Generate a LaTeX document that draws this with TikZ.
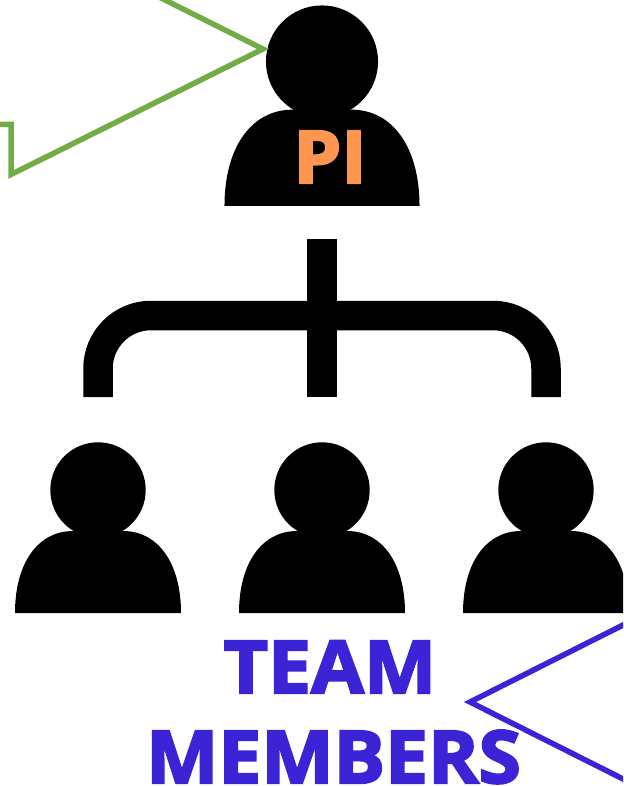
\documentclass[tikz,border=0pt]{standalone}
\usepackage{fontspec}
\usepackage{tikz}
\newfontfamily\heavyfont[BoldFeatures={FakeBold=3,FakeStretch=1.05}]{Open Sans}
\definecolor{pigreen}{HTML}{70AD47}
\definecolor{piorange}{HTML}{FF964F}
\definecolor{teamblue}{HTML}{3A24D6}
\tikzset{
    person/.pic={
        \fill (0,-123) circle (47.7);
        \fill (-83,0) .. controls (-83,-50) and (-60,-82) .. (-25,-82) -- (25,-82) .. controls (60,-82) and (83,-50) .. (83,0) -- cycle;
    },
    branch/.style={line width=29.5pt, line join=miter},
    callout/.style={line width=5.5pt, line join=miter, miter limit=10},
    title/.style={font=\heavyfont\bfseries\fontsize{73}{90}\selectfont, inner sep=0pt, anchor=base},
}
\begin{document}
\begin{tikzpicture}[x=1pt, y=-1pt]
    \clip (0,0) rectangle (623,786);
    \fill[white] (0,0) rectangle (623,786);
    % people
    \pic at (322,206) [scale=1.175] {person};
    \foreach \xpos in {98,322,546}
        \pic at (\xpos,613) {person};
    % branches
    \draw[branch] (322,239) -- (322,397);
    \draw[branch, rounded corners=53pt] (98,397) -- (98,315.5) -- (546,315.5) -- (546,397);
    % callouts
    \draw[callout, pigreen] (-10,124.5) -- (11,124.5) -- (11,174.5) -- (263,49) -- (153,-6);
    \draw[callout, teamblue] (635,619) -- (470,702) -- (635,785);
    % labels
    \node[title, text=piorange] (pi) at (330,183) {PI};
    \node[title, text=teamblue] (team) at (330,693) {TEAM};
    \node[title, text=teamblue] (members) at (333.5,783) {MEMBERS};
\end{tikzpicture}
\end{document}
